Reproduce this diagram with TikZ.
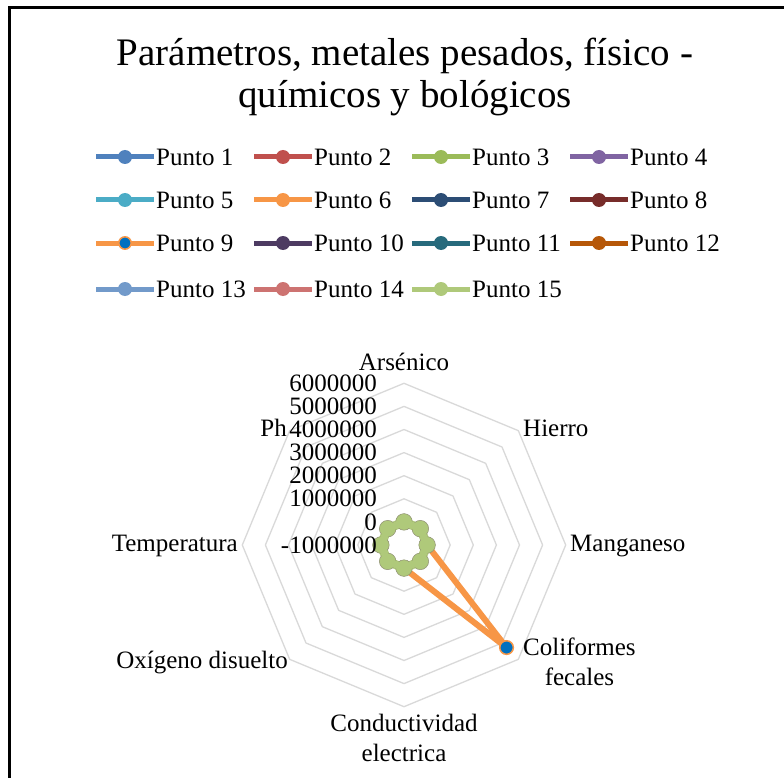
\documentclass[tikz,border=0pt]{standalone}
\usepackage{fontspec}
\setmainfont{Liberation Serif}
\usetikzlibrary{calc}
\definecolor{cA}{HTML}{4F81BD}
\definecolor{cB}{HTML}{C0504D}
\definecolor{cC}{HTML}{9BBB59}
\definecolor{cD}{HTML}{8064A2}
\definecolor{cE}{HTML}{4BACC6}
\definecolor{cF}{HTML}{F79646}
\definecolor{cG}{HTML}{2C4D75}
\definecolor{cH}{HTML}{772C2A}
\definecolor{cI}{HTML}{F79646}
\definecolor{cJ}{HTML}{4D3B62}
\definecolor{cK}{HTML}{276A7C}
\definecolor{cL}{HTML}{B65708}
\definecolor{cM}{HTML}{729ACA}
\definecolor{cN}{HTML}{CD7371}
\definecolor{cO}{HTML}{AFC97A}
\definecolor{blueMark}{HTML}{0070C0}
\definecolor{gridgray}{HTML}{D9D9D9}
\definecolor{markedge}{HTML}{8F8F72}
\tikzset{
  txt/.style={font=\fontsize{25}{30}\selectfont, inner sep=0pt},
  titletxt/.style={font=\fontsize{39}{42}\selectfont, inner sep=0pt},
  legline/.style={line width=5pt},
  gridline/.style={draw=gridgray, line width=1.3pt, line join=round},
  serline/.style={line width=6pt, line join=round, line cap=round},
}
\begin{document}
\begin{tikzpicture}[x=1pt,y=-1pt]
\useasboundingbox (0,0) rectangle (784,778);
\fill[white] (0,0) rectangle (784,778);
\draw[line width=3pt] (9.5,778) -- (9.5,7.5) -- (784,7.5);

% title
\node[titletxt] (t1) at (405,56) {Parámetros, metales pesados, físico -};
\node[titletxt] (t2) at (405,98) {químicos y bológicos};

% legend
\foreach \n/\cx/\cy/\col in {1/96/157/cA,2/254/157/cB,3/412/157/cC,4/570/157/cD,
  5/96/200/cE,6/254/200/cF,7/412/200/cG,8/570/200/cH,
  10/254/243/cJ,11/412/243/cK,12/570/243/cL,
  13/96/289/cM,14/254/289/cN,15/412/289/cO}{
  \coordinate (ls\n) at (\cx,\cy);
  \coordinate (le\n) at (\cx+58,\cy);
  \draw[legline,\col] (ls\n) -- (le\n);
  \fill[\col] ($(ls\n)!0.5!(le\n)$) circle (7);
  \node[txt,anchor=west] (lt\n) at (\cx+60,\cy) {Punto \n};
}
\coordinate (ls9) at (96,243);
\coordinate (le9) at (154,243);
\draw[legline,cI] (ls9) -- (le9);
\filldraw[fill=blueMark,draw=cI,line width=1.5pt] ($(ls9)!0.5!(le9)$) circle (6.2);
\node[txt,anchor=west] (lt9) at (156,243) {Punto 9};

% radar grid
\coordinate (c) at (404,545);
\begin{scope}[shift={(c)}]
\foreach \k in {1,...,7}{
  \pgfmathsetmacro{\r}{\k*23.1}
  \draw[gridline] (-90:\r) -- (-45:\r) -- (0:\r) -- (45:\r) -- (90:\r) -- (135:\r) -- (180:\r) -- (225:\r) -- cycle;
}
% data points
\foreach \a/\nm in {-90/pA,-45/pB,0/pC,45/pD,90/pE,135/pF,180/pG,225/pH}{
  \coordinate (\nm) at (\a:23.1);
}
\coordinate (pDnine) at (45:145);
\end{scope}

% Punto 9 series
\draw[serline,cI] (pA) -- (pB) -- (pC) -- (pDnine) -- (pE) -- (pF) -- (pG) -- (pH) -- cycle;
% Punto 15 series
\draw[serline,cO,line width=9pt] (pA) -- (pB) -- (pC) -- (pD) -- (pE) -- (pF) -- (pG) -- (pH) -- cycle;
\foreach \nm in {pA,pB,pC,pD,pE,pF,pG,pH}{
  \filldraw[fill=cO,draw=markedge,line width=0.5pt] (\nm) circle (8.3);
}
\draw[cO,line width=7pt,line join=round] (pA) -- (pB) -- (pC) -- (pD) -- (pE) -- (pF) -- (pG) -- (pH) -- cycle;
\filldraw[fill=blueMark,draw=cI,line width=1.5pt] (pDnine) circle (6.8);

% tick labels
\foreach \k/\lab in {0/-1000000,1/0,2/1000000,3/2000000,4/3000000,5/4000000,6/5000000,7/6000000}{
  \node[txt,anchor=east] (tk\k) at (377,545-\k*23.1) {\lab};
}

% axis labels
\node[txt] (ax1) at (404,362) {Arsénico};
\node[txt,anchor=west] (ax2) at (523,428) {Hierro};
\node[txt,anchor=west] (ax3) at (570,546) {Manganeso};
\node[txt,anchor=west,align=center] (ax4) at (523,662) {Coliformes\\fecales};
\node[txt,align=center] (ax5) at (404,738) {Conductividad\\electrica};
\node[txt,anchor=east] (ax6) at (288,662) {Oxígeno disuelto};
\node[txt,anchor=east] (ax7) at (238,546) {Temperatura};
\node[txt,anchor=east] (ax8) at (287,428) {Ph};
\end{tikzpicture}
\end{document}
